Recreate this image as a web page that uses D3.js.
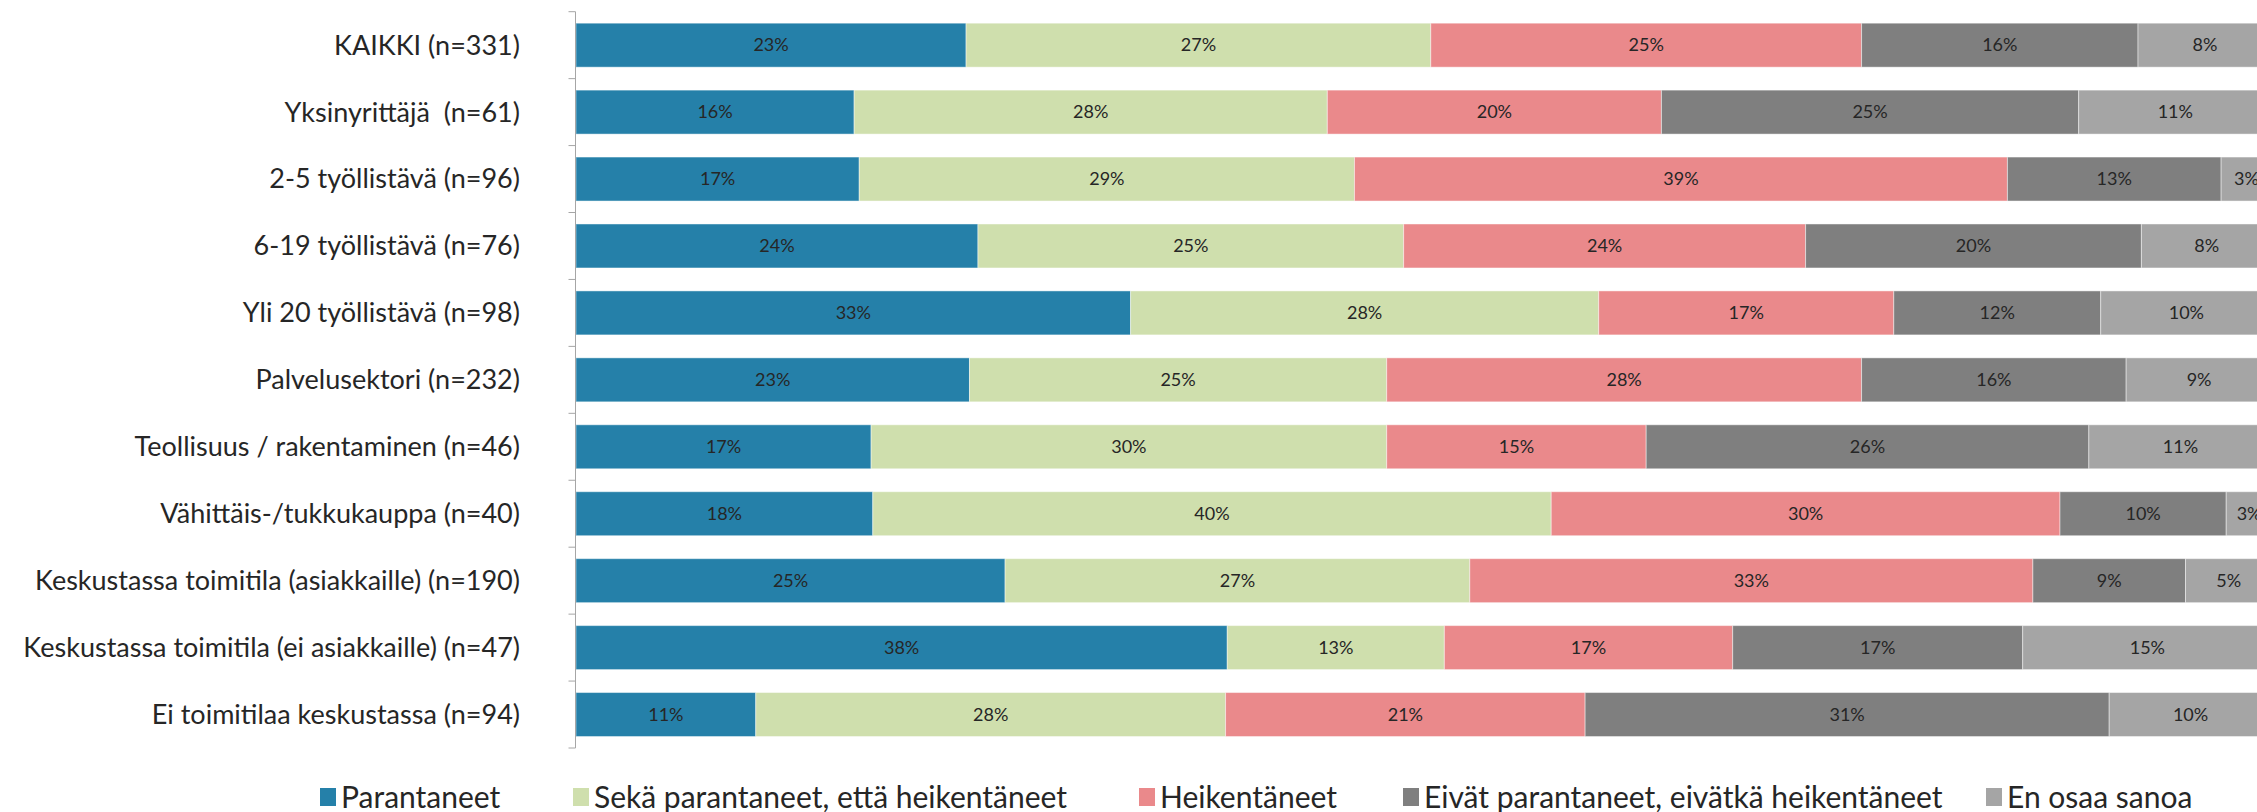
<!DOCTYPE html>
<html>
<head>
<meta charset="utf-8">
<script src="https://cdn.jsdelivr.net/npm/d3@7"></script>
<style>
  body { margin: 0; background: #fff; overflow: hidden; }
  svg { display: block; font-family: Lato, "Open Sans", sans-serif; }
</style>
</head>
<body>
<div id="chart"></div>
<script>
// kategoriat
const categories = [
  'KAIKKI (n=331)',
  'Yksinyrittäjä  (n=61)',
  '2-5 työllistävä (n=96)',
  '6-19 työllistävä (n=76)',
  'Yli 20 työllistävä (n=98)',
  'Palvelusektori (n=232)',
  'Teollisuus / rakentaminen (n=46)',
  'Vähittäis-/tukkukauppa (n=40)',
  'Keskustassa toimitila (asiakkaille) (n=190)',
  'Keskustassa toimitila (ei asiakkaille) (n=47)',
  'Ei toimitilaa keskustassa (n=94)'
];

const seriesNames = [
  'Parantaneet',
  'Sekä parantaneet, että heikentäneet',
  'Heikentäneet',
  'Eivät parantaneet, eivätkä heikentäneet',
  'En osaa sanoa'
];
const colors = ['#2580a9', '#cfdfad', '#ea898b', '#7f7f7f', '#a5a5a5'];

// osuudet (%)
const parantaneet  = [23.0, 16.4, 16.7, 23.7, 32.7, 23.2, 17.4, 17.5, 25.3, 38.4, 10.6];
const molemmat     = [27.4, 27.9, 29.2, 25.1, 27.6, 24.6, 30.4, 40.0, 27.4, 12.8, 27.7];
const heikentaneet = [25.4, 19.7, 38.5, 23.7, 17.4, 28.0, 15.3, 30.0, 33.2, 17.0, 21.2];
const eivat        = [16.3, 24.6, 12.6, 19.8, 12.2, 15.6, 26.1,  9.8,  9.0, 17.1, 30.9];
const eos          = [ 7.9, 11.4,  3.0,  7.7, 10.1,  8.6, 10.8,  2.7,  5.1, 14.7,  9.6];

const seriesValues = [parantaneet, molemmat, heikentaneet, eivat, eos];

const width = 2257, height = 812;
const margin = { left: 576, top: 11.7, bottom: 64 };
const plotRight = margin.left + 1696;
// selitteen kohtien paikat
const legendX = [320, 573, 1139, 1403, 1986];

const rows = categories.map((c, i) => {
  const r = { category: c };
  seriesNames.forEach((s, j) => { r[s] = seriesValues[j][i]; });
  return r;
});

const stacked = d3.stack().keys(seriesNames)(rows);

const svg = d3.select('#chart').append('svg')
  .attr('width', width)
  .attr('height', height);

const x = d3.scaleLinear().domain([0, 100]).range([margin.left, plotRight]);
const y = d3.scaleBand()
  .domain(categories)
  .range([margin.top, height - margin.bottom])
  .paddingInner(0.343)
  .paddingOuter(0.1715);

// pylväät
const layer = svg.append('g').selectAll('g')
  .data(stacked)
  .enter()
  .append('g')
  .attr('fill', (d, i) => colors[i]);

layer.selectAll('rect')
  .data(d => d)
  .enter()
  .append('rect')
  .attr('x', d => x(d[0]))
  .attr('y', d => y(d.data.category))
  .attr('width', d => x(d[1]) - x(d[0]))
  .attr('height', y.bandwidth())
  .attr('stroke', '#ffffff')
  .attr('stroke-opacity', 0.45)
  .attr('stroke-width', 1);

// arvot
layer.selectAll('text')
  .data(d => d)
  .enter()
  .append('text')
  .attr('x', d => (x(d[0]) + x(d[1])) / 2)
  .attr('y', d => y(d.data.category) + y.bandwidth() / 2)
  .attr('dy', '0.35em')
  .attr('text-anchor', 'middle')
  .attr('fill', '#262626')
  .style('font-size', '18px')
  .text(d => Math.round(d[1] - d[0]) + '%');

// pystyakseli
const axisX = margin.left - 0.5;
const axis = svg.append('g');
const step = y.step();
const axisTop = margin.top;
const axisBottom = margin.top + step * categories.length;
axis.append('line')
  .attr('x1', axisX).attr('x2', axisX)
  .attr('y1', axisTop).attr('y2', axisBottom)
  .attr('stroke', '#a6a6a6');
axis.selectAll('line.tick')
  .data(d3.range(categories.length + 1))
  .enter()
  .append('line')
  .attr('class', 'tick')
  .attr('x1', axisX - 7).attr('x2', axisX)
  .attr('y1', i => axisTop + i * step)
  .attr('y2', i => axisTop + i * step)
  .attr('stroke', '#a6a6a6');

svg.append('g').selectAll('text')
  .data(categories)
  .enter()
  .append('text')
  .attr('x', 520)
  .attr('y', d => y(d) + y.bandwidth() / 2)
  .attr('dy', '0.35em')
  .attr('text-anchor', 'end')
  .attr('fill', '#262626')
  .style('font-size', '27px')
  .style('white-space', 'pre')
  .text(d => d);

// selite
const legend = svg.append('g').attr('transform', 'translate(0,797)');
seriesNames.forEach((s, i) => {
  const g = legend.append('g').attr('transform', `translate(${legendX[i]},0)`);
  g.append('rect')
    .attr('x', 0).attr('y', -9)
    .attr('width', 16).attr('height', 18)
    .attr('fill', colors[i]);
  g.append('text')
    .attr('x', 21)
    .attr('dy', '0.35em')
    .attr('fill', '#262626')
    .style('font-size', '30px')
    .text(s);
});
</script>
</body>
</html>
